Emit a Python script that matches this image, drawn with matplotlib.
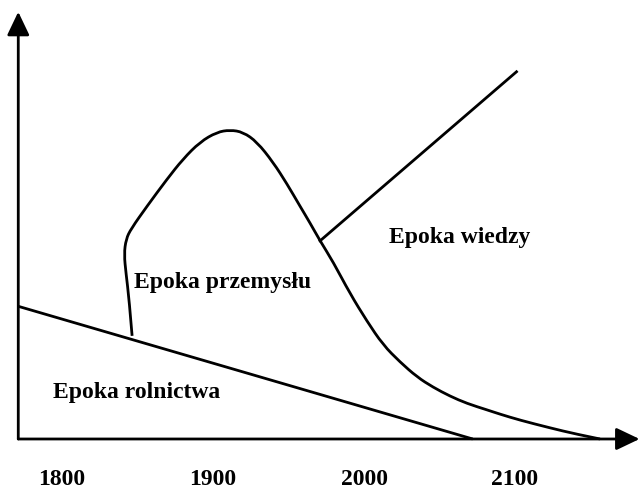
import matplotlib
matplotlib.use("Agg")
import matplotlib.pyplot as plt
from matplotlib.path import Path
from matplotlib.patches import PathPatch

# tick labels (years)
years = [1800, 1900, 2000, 2100]

# epoka rolnictwa - straight line
agr_x = [1771, 2072]
agr_y = [31.0, 0]

# epoka przemyslu - curve
ind_x = [1846.4, 1844.4, 1842.4, 1841.1, 1842.4, 1845.7, 1856.3, 1869.5, 1880.1, 1891.4,
         1902.6, 1911.3, 1919.9, 1929.1, 1939.7, 1949.0, 1957.6, 1964.2, 1970.9, 1979.5,
         1990.7, 2002.0, 2012.6, 2023.8, 2035.1, 2045.7, 2057.0, 2068.2, 2081.5, 2090.1,
         2103.3, 2123.2, 2139.7, 2156.3]
ind_y = [24.1, 32.7, 38.6, 43.2, 46.7, 49.1, 54.4, 60.7, 65.4, 69.4,
         71.7, 72.2, 71.7, 69.4, 64.7, 59.6, 54.4, 50.5, 46.3, 41.4,
         34.0, 27.5, 22.0, 18.0, 14.5, 12.1, 10.0, 8.3, 6.8, 5.8,
         4.4, 2.6, 1.2, 0]

# epoka wiedzy - straight line from the curve
kno_x = [1970.9, 2101]
kno_y = [46.3, 85.8]

labels = ["Epoka wiedzy", "Epoka przemysłu", "Epoka rolnictwa"]
label_x = [2063.6, 1906, 1849.7]
label_y = [47.2, 36.7, 11.0]

plt.rcParams['font.family'] = ['Liberation Serif', 'DejaVu Serif']

fig = plt.figure(figsize=(6.4, 4.89), dpi=100)
ax = fig.add_axes([0, 0, 1, 1])
ax.set_xlim(1758.9, 2182.8)
ax.set_ylim(-11.45, 102.8)
ax.axis('off')

lw = 2.0
ax.plot(agr_x, agr_y, color='black', lw=lw, solid_capstyle='butt')
ax.plot(kno_x, kno_y, color='black', lw=lw)

# smooth curve: read points as quadratic bezier controls, midpoints on the curve
pts = list(zip(ind_x, ind_y))
verts = [pts[0]]
codes = [Path.MOVETO]
for i in range(1, len(pts) - 1):
    mid = ((pts[i][0] + pts[i + 1][0]) / 2, (pts[i][1] + pts[i + 1][1]) / 2)
    if i == len(pts) - 2:
        mid = pts[-1]
    verts += [pts[i], mid]
    codes += [Path.CURVE3, Path.CURVE3]
ax.add_patch(PathPatch(Path(verts, codes), fill=False, lw=lw, edgecolor='black'))

# axes with arrow heads
arrow = dict(arrowstyle='-|>,head_length=0.65,head_width=0.31', mutation_scale=22,
             lw=lw, color='black', shrinkA=0, shrinkB=0)
ax.annotate('', xy=(1771, 99.8), xytext=(1771, 0), arrowprops=arrow)
ax.annotate('', xy=(2182.5, 0), xytext=(1771, 0), arrowprops=arrow)

for t, x, y in zip(labels, label_x, label_y):
    ax.text(x, y, t, ha='center', va='center', fontsize=17, fontweight='bold')

for yr in years:
    ax.text(yr, -9.2, str(yr), ha='center', va='center', fontsize=17, fontweight='bold')

fig.savefig("out.png", dpi=100)
